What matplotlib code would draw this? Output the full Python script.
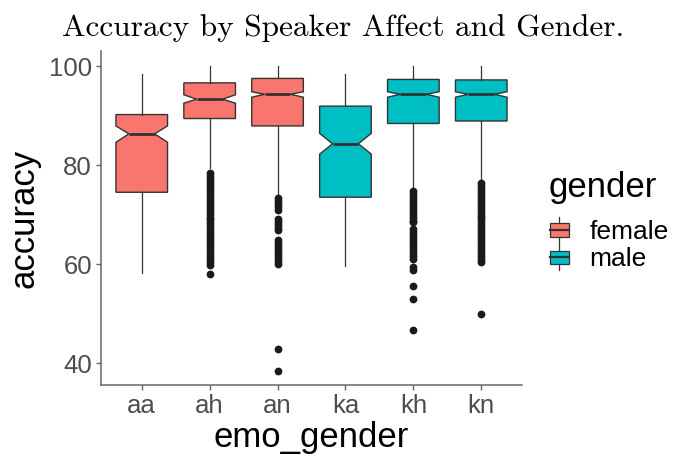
import matplotlib
matplotlib.use("Agg")
import matplotlib.pyplot as plt
from matplotlib.legend_handler import HandlerBase
from matplotlib.lines import Line2D
from matplotlib.patches import Rectangle, Patch

plt.rcParams['font.family'] = ['Liberation Sans', 'DejaVu Sans']

# values
groups = ["aa", "ah", "an", "ka", "kh", "kn"]
gender = ["female", "female", "female", "male", "male", "male"]
q1 = [74.5, 89.4, 87.9, 73.5, 88.4, 88.9]
med = [86.3, 93.3, 94.3, 84.3, 94.3, 94.3]
q3 = [90.2, 96.6, 97.5, 91.9, 97.3, 97.2]
whis_lo = [58.2, 79.4, 73.8, 59.6, 75.2, 77.0]
whis_hi = [98.4, 100.0, 100.0, 98.4, 100.0, 100.0]
ci_lo = [84.6, 92.5, 93.7, 82.2, 93.7, 93.7]
ci_hi = [87.9, 94.2, 94.8, 86.4, 94.8, 94.8]
outliers = [
    [],
    [78.4, 77.8, 77.2, 76.6, 76.0, 75.4, 74.8, 74.2, 73.6, 73.0, 72.4, 71.8,
     71.2, 70.6, 70.0, 69.4, 68.8, 68.2, 67.6, 67.0, 66.4, 65.8, 65.2, 64.6,
     64.0, 63.4, 62.8, 62.2, 61.6, 61.0, 60.4, 59.8, 57.9],
    [73.3, 72.7, 72.1, 71.5, 70.9, 69.1, 68.5, 67.9, 67.3, 66.9, 64.8, 64.2,
     63.6, 63.0, 62.4, 61.8, 61.2, 60.6, 60.0, 42.8, 38.4],
    [],
    [74.7, 74.1, 73.5, 72.9, 72.3, 71.7, 71.1, 70.5, 69.9, 69.3, 68.7, 68.4,
     67.0, 66.4, 65.8, 65.2, 64.6, 64.0, 63.4, 62.8, 62.2, 61.6, 61.1, 59.3,
     58.7, 55.6, 53.0, 46.7],
    [76.4, 75.8, 75.2, 74.6, 74.0, 73.4, 72.8, 72.2, 71.6, 71.0, 70.4, 69.8,
     69.2, 68.6, 68.0, 67.4, 66.8, 66.2, 65.6, 65.0, 64.4, 63.8, 63.2, 62.6,
     62.0, 61.4, 60.8, 60.4, 50.0],
]
colors = {"female": "#F8766D", "male": "#00BFC4"}
edge = "#333333"

stats = []
for i in range(len(groups)):
    stats.append(dict(label=groups[i], q1=q1[i], med=med[i], q3=q3[i],
                      whislo=whis_lo[i], whishi=whis_hi[i],
                      cilo=ci_lo[i], cihi=ci_hi[i], fliers=outliers[i]))

fig = plt.figure(figsize=(6.75, 4.59), dpi=100)
ax = fig.add_axes([101 / 675, 1 - 385 / 459, 421 / 675, 333.8 / 459])

bp = ax.bxp(stats, positions=range(1, 7), widths=0.76, shownotches=True,
            showcaps=False, patch_artist=True,
            boxprops=dict(edgecolor=edge, linewidth=1.0),
            medianprops=dict(color=edge, linewidth=2),
            whiskerprops=dict(color=edge, linewidth=0.9),
            flierprops=dict(marker='o', markersize=4.6, markerfacecolor='#1a1a1a',
                            markeredgecolor='#1a1a1a', linestyle='none'))
for box, g in zip(bp['boxes'], gender):
    box.set_facecolor(colors[g])

ax.set_xlim(0.4, 6.6)
ax.set_ylim(35.56, 103)
ax.set_yticks([40, 60, 80, 100])
ax.set_xticks(range(1, 7))
ax.set_xticklabels(groups)

for s in ['top', 'right']:
    ax.spines[s].set_visible(False)
for s in ['left', 'bottom']:
    ax.spines[s].set_color('#666666')
    ax.spines[s].set_linewidth(1.1)
ax.tick_params(axis='both', colors='#666666', length=3.5, width=1.0,
               labelsize=18.5, labelcolor='#4D4D4D', pad=3)

ax.set_xlabel("emo_gender", fontsize=25, labelpad=2)
ax.set_ylabel("accuracy", fontsize=25, labelpad=6)

fig.text(0.508, 0.94, "Accuracy by Speaker Affect and Gender.",
         family='cmr10', fontsize=22.6, ha='center', va='center')


class BoxKey(HandlerBase):
    def create_artists(self, legend, orig_handle, xdescent, ydescent,
                       width, height, fontsize, trans):
        x0, y0 = -xdescent, -ydescent
        cx = x0 + width / 2
        fc = orig_handle.get_facecolor()
        wl = Line2D([cx, cx], [y0 - height * 0.05, y0 + height * 1.05],
                    color=edge, lw=0.9, transform=trans)
        rect = Rectangle((x0 + width * 0.05, y0 + height * 0.22), width * 0.9,
                         height * 0.56, facecolor=fc, edgecolor=edge, lw=0.9,
                         transform=trans)
        ml = Line2D([x0 + width * 0.05, x0 + width * 0.95],
                    [y0 + height / 2] * 2, color=edge, lw=1.6, transform=trans)
        return [wl, rect, ml]


handles = [Patch(facecolor=colors["female"]), Patch(facecolor=colors["male"])]
leg = fig.legend(handles, ["female", "male"], title="gender",
                 handler_map={Patch: BoxKey()},
                 loc='center left', bbox_to_anchor=(0.793, 0.518),
                 frameon=False, fontsize=19, title_fontsize=25,
                 handlelength=0.8, handleheight=1.0, handletextpad=0.75,
                 labelspacing=0.05, borderpad=0, alignment='left')
leg._legend_box.sep = 10

fig.savefig("out.png", dpi=100)
